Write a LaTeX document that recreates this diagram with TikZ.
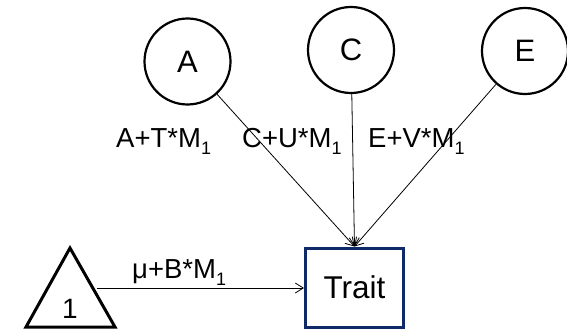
\documentclass[tikz,border=0pt]{standalone}
\usepackage{fontspec}
\setmainfont{Liberation Sans}
\usetikzlibrary{arrows.meta}
\definecolor{navy}{HTML}{0F2A66}
\newcommand\subone{\raisebox{-0.28em}{\fontsize{18}{18}\selectfont 1}}
\begin{document}
\begin{tikzpicture}[x=1pt,y=-1pt,
  latent/.style={circle,draw=black,line width=2.2pt,minimum size=86pt,inner sep=0pt,font=\fontsize{31}{33}\selectfont},
  lbl/.style={anchor=base west,inner sep=0pt,font=\fontsize{27.5}{30}\selectfont},
  path/.style={line width=0.8pt,-{Straight Barb[length=8pt,width=10pt,line width=0.8pt]}}]
\useasboundingbox (0,0) rectangle (567,332);
\node[latent] (A) at (187.5,61.5) {A};
\node[latent] (C) at (351,50) {C};
\node[latent] (E) at (525,51) {E};
\node[draw=navy,line width=3pt,minimum width=98pt,minimum height=79pt,inner sep=0pt,font=\fontsize{31.5}{33}\selectfont] (T) at (354.5,287.5) {Trait};
\draw[line width=3pt,line join=miter] (70,248) -- (115,327) -- (26,327) -- cycle;
\node[inner sep=0pt,anchor=base,font=\fontsize{28}{30}\selectfont] (one) at (70,318) {1};
\coordinate (tri) at (97,288);
\draw[path] (A) -- (T.north);
\draw[path] (C) -- (T.north);
\draw[path] (E) -- (T.north);
\draw[path] (tri) -- (T.west |- tri);
\node[lbl] (la) at (116,147) {A+T*M\subone};
\node[lbl] (lc) at (242,147) {C+U*M\subone};
\node[lbl] (le) at (368,147) {E+V*M\subone};
\node[lbl] (lm) at (132,278) {μ+B*M\subone};
\end{tikzpicture}
\end{document}
